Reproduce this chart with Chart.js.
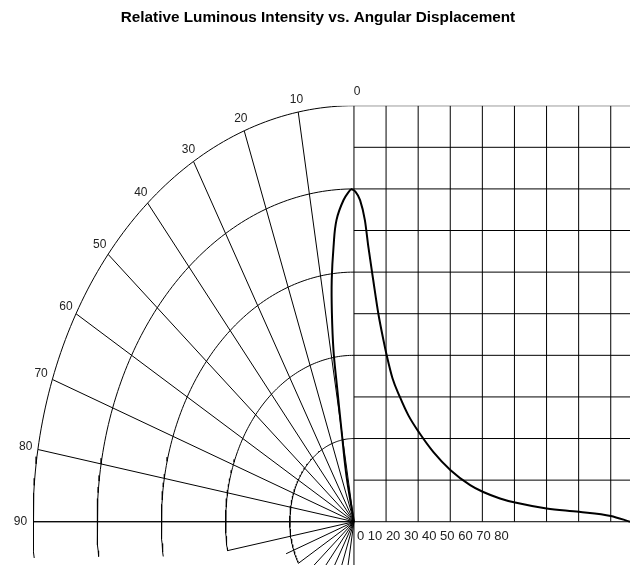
<!DOCTYPE html>
<html>
<head>
<meta charset="utf-8">
<script src="https://cdn.jsdelivr.net/npm/chart.js@4.4.1/dist/chart.umd.min.js"></script>
<style>
  html, body { margin: 0; padding: 0; background: #fff; }
  #wrap { width: 636px; height: 565px; }
</style>
</head>
<body>
<div id="wrap"><canvas id="myChart"></canvas></div>
<script>
// left half: polar lobe, angle (deg) and relative intensity (grid units)
const lobeAngles = [12, 10.1, 9.2, 8.8, 7.8, 6.8, 5.5, 4.3, 2.4, 0.7];
const lobeIntensity = [1.10, 2.16, 3.37, 4.17, 5.07, 5.85, 6.64, 7.27, 7.74, 8.0];

// right half: same curve on a rectangular grid, angle (deg) and intensity
const curveAngles = [0.5, 1.9, 3.4, 4.5, 6.0, 7.6, 9.2, 10.2, 12.0, 14.3, 17.0, 20.5, 24.7, 30.1, 36.2, 40.1, 45.5, 50.2, 60.0, 70.1, 80.0, 86.0];
const curveIntensity = [7.93, 7.73, 7.25, 6.6, 5.81, 5.0, 4.36, 4.0, 3.45, 3.0, 2.55, 2.12, 1.68, 1.24, 0.88, 0.72, 0.56, 0.46, 0.32, 0.24, 0.14, 0.0];

const polarTicks = [0, 10, 20, 30, 40, 50, 60, 70, 80, 90];
const bottomTicks = [0, 10, 20, 30, 40, 50, 60, 70, 80];

const arcRadii = [2, 4, 6, 8, 10];
const arcEnds = [120, 100, 98, 96, 95];
const lowSpokes = [100, 110, 120, 130, 140, 150, 160, 170];
const lowSpokeLen = [4, 2.25, 2, 2, 2, 2, 2, 2];

const title = 'Relative Luminous Intensity vs. Angular Displacement';

const X_MIN = -10, X_MAX = 8.6, Y_MIN = -1.04, Y_MAX = 10;
const rad = d => d * Math.PI / 180;
const polar = (a, r) => ({ x: -r * Math.sin(rad(a)), y: r * Math.cos(rad(a)) });

// lobe: from the origin up to the peak
let lobe = [{ x: 0, y: 0 }];
lobeAngles.forEach((a, i) => lobe.push(polar(a, lobeIntensity[i])));
// right side: from the peak down to 86 deg
let curve = [lobe[lobe.length - 1]];
curveAngles.forEach((a, i) => curve.push({ x: a / 10, y: curveIntensity[i] }));

// straight grid lines, broken with null points
let grid = [];
const seg = (p, q) => { grid.push(p, q, { x: p.x, y: null }); };
polarTicks.forEach(a => { if (a > 0) seg({ x: 0, y: 0 }, polar(a, 10)); });
lowSpokes.forEach((a, i) => seg({ x: 0, y: 0 }, polar(a, lowSpokeLen[i])));
for (let i = 0; i <= 8; i++) seg({ x: i, y: i === 0 ? Y_MIN : 0 }, { x: i, y: 10 });
for (let j = 0; j <= 10; j++) seg({ x: j === 0 ? X_MIN : 0, y: j }, { x: X_MAX, y: j });

// polar arcs
let arcs = [];
arcRadii.forEach((r, i) => {
  for (let a = 0; a <= arcEnds[i]; a += 1) arcs.push(polar(a, r));
  arcs.push({ x: 0, y: null });
});

const polarLabels = {
  id: 'polarLabels',
  afterDraw(chart) {
    const ctx = chart.ctx;
    const xs = chart.scales.x, ys = chart.scales.y;
    const ox = xs.getPixelForValue(0), oy = ys.getPixelForValue(0);
    ctx.save();
    ctx.fillStyle = '#000';
    ctx.textAlign = 'center';
    ctx.textBaseline = 'middle';
    ctx.font = 'bold 15.3px "Liberation Sans", Arial, sans-serif';
    ctx.fillText(title, chart.width / 2, 18);

    ctx.fillStyle = '#222';
    ctx.font = '12px "Liberation Sans", Arial, sans-serif';
    polarTicks.forEach(a => {
      const p = polar(a, 10);
      const px = xs.getPixelForValue(p.x), py = ys.getPixelForValue(p.y);
      const dx = px - ox, dy = py - oy, len = Math.hypot(dx, dy);
      ctx.fillText(String(a), px + 12.5 * dx / len + (a === 0 ? 3 : 0), py + 12.5 * dy / len - (a === 0 ? 2 : 0));
    });
    ctx.font = '13px "Liberation Sans", Arial, sans-serif';
    ctx.textAlign = 'left';
    ctx.fillText(bottomTicks.join(' '), ox + 3, ys.getPixelForValue(-0.36));
    ctx.restore();
  }
};

new Chart(document.getElementById('myChart'), {
  type: 'scatter',
  data: {
    datasets: [
      { data: lobe, showLine: true, borderColor: '#000', borderWidth: 2, pointRadius: 0, tension: 0.4, order: 0 },
      { data: curve, showLine: true, borderColor: '#000', borderWidth: 2, pointRadius: 0, cubicInterpolationMode: 'monotone', order: 0 },
      { data: grid, showLine: true, borderColor: '#000', borderWidth: 1, pointRadius: 0, order: 1 },
      { data: arcs, showLine: true, borderColor: '#000', borderWidth: 1, pointRadius: 0, order: 2 }
    ]
  },
  options: {
    responsive: true,
    maintainAspectRatio: false,
    animation: false,
    devicePixelRatio: 1,
    layout: { padding: { left: 33, right: 6, top: 105.7, bottom: 0 } },
    scales: {
      x: { type: 'linear', min: X_MIN, max: X_MAX, display: false },
      y: { type: 'linear', min: Y_MIN, max: Y_MAX, display: false }
    },
    plugins: {
      legend: { display: false },
      tooltip: { enabled: false },
      title: { display: false }
    }
  },
  plugins: [polarLabels]
});
</script>
</body>
</html>
